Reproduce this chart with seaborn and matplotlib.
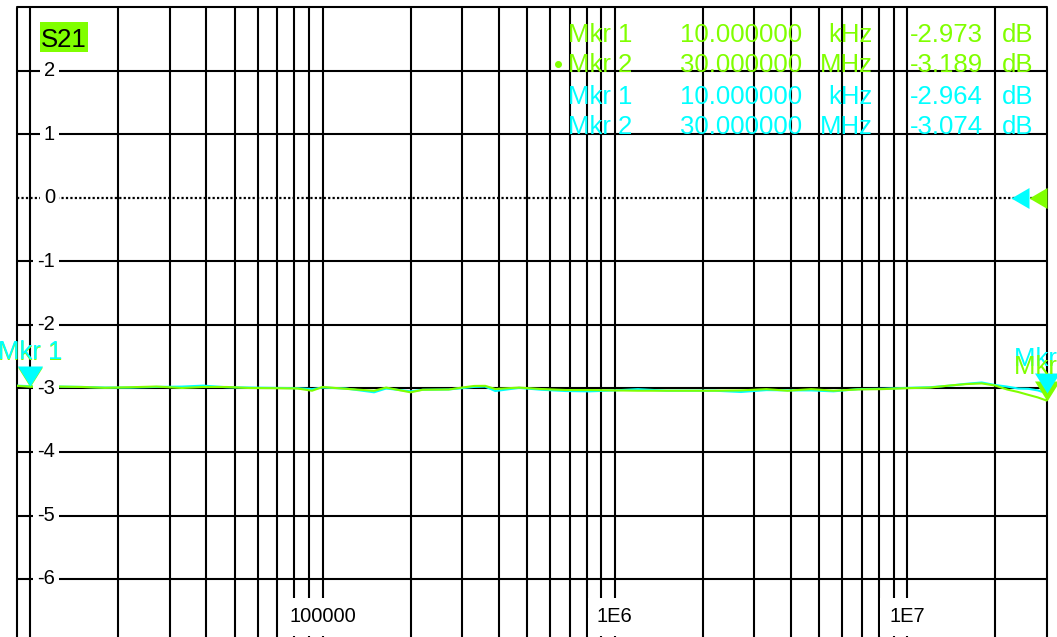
import matplotlib
matplotlib.use("Agg")
import matplotlib.pyplot as plt
import matplotlib.transforms as mtransforms
from matplotlib.patches import Rectangle
import pandas as pd
import seaborn as sns

# ---- sweep data (Hz, dB) ----
freq_hz = [9e3, 10e3, 12e3, 15e3, 18e3, 22e3, 27e3, 33e3, 39e3, 47e3, 56e3, 68e3,
           82e3, 92e3, 100e3, 120e3, 150e3, 165e3, 180e3, 200e3, 220e3, 270e3,
           300e3, 330e3, 360e3, 390e3, 470e3, 560e3, 680e3, 820e3, 1.0e6, 1.2e6,
           1.5e6, 1.8e6, 2.2e6, 2.7e6, 3.3e6, 3.9e6, 4.7e6, 5.6e6, 6.8e6, 8.2e6,
           10e6, 12e6, 14e6, 16e6, 18e6, 20e6, 22e6, 24e6, 26e6, 28e6, 30e6]
s21_db = [-2.958, -2.973, -2.969, -2.976, -2.989, -2.980, -2.969, -2.992, -2.976, -2.976,
          -2.992, -2.995, -3.000, -3.035, -2.976, -3.005, -3.036, -2.985, -3.020, -3.060,
          -3.020, -3.016, -2.985, -2.960, -2.958, -3.008, -2.985, -3.008, -3.024, -3.024,
          -3.030, -3.035, -3.035, -3.035, -3.035, -3.030, -3.010, -3.035, -3.010, -3.035,
          -3.015, -3.010, -2.995, -2.985, -2.953, -2.930, -2.920, -2.953, -3.016, -3.055,
          -3.100, -3.140, -3.189]
mem_db = [-2.955, -2.964, -2.968, -2.975, -2.985, -2.985, -2.975, -2.970, -2.955, -2.980,
          -2.985, -2.990, -2.995, -3.010, -2.985, -3.000, -3.060, -3.000, -3.020, -3.045,
          -3.020, -3.015, -2.995, -2.975, -2.970, -3.040, -2.990, -3.020, -3.040, -3.045,
          -3.030, -3.010, -3.035, -3.035, -3.035, -3.055, -3.025, -3.030, -3.030, -3.045,
          -3.010, -3.005, -2.990, -2.980, -2.955, -2.925, -2.905, -2.945, -2.970, -3.000,
          -3.005, -3.030, -3.074]

# ---- markers ----
marker_names = ["Mkr 1", "Mkr 2"]
marker_freq_hz = [10e3, 30e6]
marker_freq_text = ["10.000000", "30.000000"]
marker_unit_text = ["kHz", "MHz"]
s21_marker_db = [-2.973, -3.189]
mem_marker_db = [-2.964, -3.074]

# ---- axes ----
x_start, x_stop = 9e3, 30e6
y_top, y_bottom = 3, -7
y_tick_values = [2, 1, 0, -1, -2, -3, -4, -5, -6]
x_tick_values = [1e5, 1e6, 1e7]
x_tick_labels = ["100000", "1E6", "1E7"]
x_grid = [9e3] + [m * 10 ** e for e in (4, 5, 6) for m in range(1, 10)] + [1e7, 2e7, 3e7]
y_grid = [3, 2, 1, -1, -2, -3, -4, -5, -6, -7]

GREEN = "#80ff00"
CYAN = "#00ffff"
TXT = 18.5

sns.set_theme(style="white")
plt.rcParams["font.family"] = ["Liberation Sans", "DejaVu Sans"]

W, H = 1057, 637
fig = plt.figure(figsize=(W / 100, H / 100), dpi=100)
fig.patch.set_facecolor("white")


def fx(px):
    return px / W


def fy(py):
    return 1 - py / H


ax = fig.add_axes([fx(17), fy(642.5), (1046.5 - 17) / W, 635 / H])
ax.set_xscale("log")

df = pd.DataFrame({"freq": freq_hz, "s21": s21_db, "mem": mem_db})
sns.lineplot(data=df, x="freq", y="mem", ax=ax, color=CYAN, lw=1.5,
             estimator=None, sort=False, zorder=3)
sns.lineplot(data=df, x="freq", y="s21", ax=ax, color=GREEN, lw=1.5,
             estimator=None, sort=False, zorder=4)

ax.set_xlim(x_start, x_stop)
ax.set_ylim(y_bottom, y_top)
ax.set_axis_off()

# graticule
for f in x_grid:
    ax.axvline(f, color="black", lw=1.5, zorder=1, clip_on=False)
for y in y_grid:
    ax.axhline(y, color="black", lw=1.5, zorder=1, clip_on=False)
ax.axhline(0, color="black", lw=1.6, ls=(0, (1, 1)), zorder=2, clip_on=False)

# y tick labels inside the graticule
ylab_trans = mtransforms.blended_transform_factory(ax.transAxes, ax.transData)
for v in y_tick_values:
    ax.text((55 - 17) / (1046.5 - 17), v, f"{v}", transform=ylab_trans,
            ha="right", va="center", fontsize=14.5, color="black", zorder=5,
            bbox=dict(boxstyle="square,pad=0.2", fc="white", ec="none"))

# x tick labels along the bottom
xlab_trans = mtransforms.blended_transform_factory(ax.transData, ax.transAxes)
for v, lab in zip(x_tick_values, x_tick_labels):
    ax.text(v, (642.5 - 617) / 635, lab, transform=xlab_trans, ha="center",
            va="center", fontsize=14.5, color="black", zorder=5,
            bbox=dict(boxstyle="square,pad=0.45", fc="white", ec="none"))


def px_marker(verts_px):
    m = max(max(abs(a), abs(b)) for a, b in verts_px)
    return verts_px, 2 * m * 0.72


# reference-level arrows at 0 dB on the right edge
for verts, col in (([(-18, 0), (0, 10.5), (0, -10.5)], GREEN),
                   ([(-36, 0), (-18, 10.5), (-18, -10.5)], CYAN)):
    mk, ms = px_marker(verts)
    ax.plot([x_stop], [0], marker=mk, markersize=ms, color=col, mew=0,
            ls="none", zorder=6, clip_on=False)

# marker triangles and labels
down_tri, tri_ms = px_marker([(0, 0), (-12.5, 20), (12.5, 20)])
for i, (f, name) in enumerate(zip(marker_freq_hz, marker_names)):
    for vals, col, z in ((s21_marker_db, GREEN, 7), (mem_marker_db, CYAN, 8)):
        ax.plot([f], [vals[i]], marker=down_tri, markersize=tri_ms, color=col,
                mew=0, ls="none", zorder=z, clip_on=False)
    for vals, col, z in ((mem_marker_db, CYAN, 9 if i == 0 else 8),
                         (s21_marker_db, GREEN, 8 if i == 0 else 9)):
        ax.annotate(name, xy=(f, vals[i]), xytext=(0, 27),
                    textcoords="offset pixels", ha="center", va="baseline",
                    fontsize=TXT, color=col, zorder=z, annotation_clip=False)

# trace title box
fig.patches.append(Rectangle((fx(40), fy(52)), fx(88) - fx(40), fy(22) - fy(52),
                             transform=fig.transFigure, fc=GREEN, ec="none",
                             zorder=5))
fig.text(fx(41), fy(46.7), "S21", ha="left", va="baseline", fontsize=TXT,
         color="black", zorder=6)

# marker readout table
rows = []
for vals, col in ((s21_marker_db, GREEN), (mem_marker_db, CYAN)):
    for i in range(len(marker_names)):
        rows.append((marker_names[i], marker_freq_text[i], marker_unit_text[i],
                     f"{vals[i]:.3f}", col))
baselines = [41.5, 72.5, 103.5, 134.5]
for (name, ftxt, unit, val, col), yb in zip(rows, baselines):
    kw = dict(fontsize=TXT, color=col, va="baseline", zorder=6)
    fig.text(fx(568), fy(yb), name, ha="left", **kw)
    fig.text(fx(802), fy(yb), ftxt, ha="right", **kw)
    fig.text(fx(873), fy(yb), unit, ha="right", **kw)
    fig.text(fx(983), fy(yb), val, ha="right", **kw)
    fig.text(fx(1002), fy(yb), "dB", ha="left", **kw)
fig.text(fx(558.5), fy(baselines[1]), "\u2022", ha="center", va="baseline",
         fontsize=TXT, color=GREEN, zorder=6)

fig.savefig("out.png", dpi=100, facecolor="white")
